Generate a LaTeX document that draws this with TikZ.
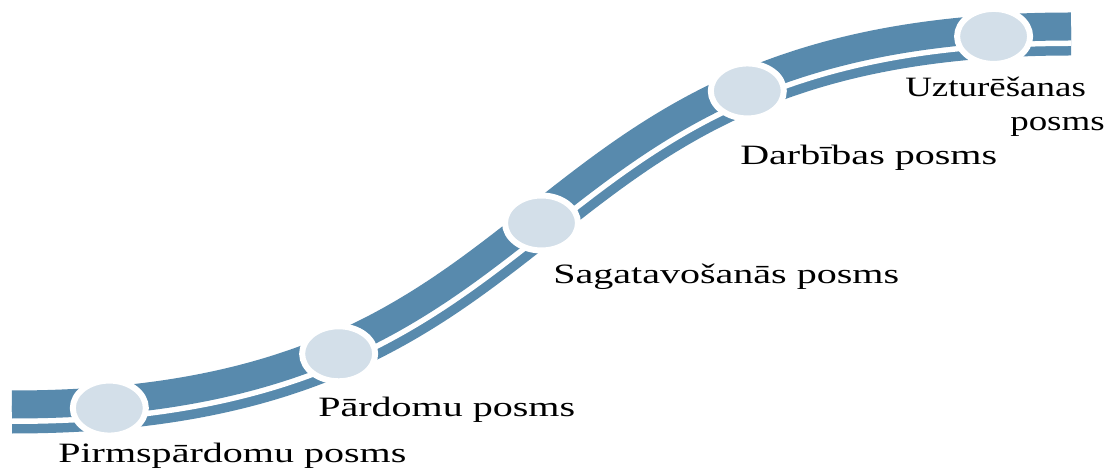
\documentclass[tikz,border=0pt]{standalone}
\usepackage{fontspec}
\setmainfont{Liberation Serif}
\usetikzlibrary{shapes.geometric}
\definecolor{bandblue}{RGB}{88,138,173}
\definecolor{dotfill}{RGB}{211,223,233}
\begin{document}
\begin{tikzpicture}[x=1pt,y=-1pt,
  stage/.style={ellipse, minimum width=73pt, minimum height=55pt, inner sep=0pt,
                fill=dotfill, draw=white, line width=6pt},
  stagelabel/.style={font=\fontsize{28}{34}\selectfont, xscale=1.43,
                     anchor=base west, inner sep=0pt, text=black}]
\useasboundingbox (0,0) rectangle (1109,470);
\fill[white] (0,0) rectangle (1109,470);
% the S-shaped road
\coordinate (s) at (12,412);
\coordinate (e) at (1071,34);
\coordinate (k1) at (592,412);
\coordinate (k2) at (491,34);
\draw[bandblue, line width=43pt] (s) .. controls (k1) and (k2) .. (e);
% thin white stripe running along the lower side of the road
\begin{scope}
  \clip (s) .. controls (k1) and (k2) .. (e) -- (1200,34) -- (1200,600)
        -- (-100,600) -- (-100,412) -- cycle;
  \draw[white, line width=24pt] (s) .. controls (k1) and (k2) .. (e);
\end{scope}
\draw[bandblue, line width=13pt] (s) .. controls (k1) and (k2) .. (e);
% stage markers along the road
\path (s) .. controls (k1) and (k2) .. (e)
  node[stage, pos=0.06]  (c1) {}
  node[stage, pos=0.248] (c2) {}
  node[stage, pos=0.5]   (c3) {}
  node[stage, pos=0.755] (c4) {}
  node[stage, pos=0.953] (c5) {};
% stage names
\node[stagelabel] (l1)  at (58,462)   {Pirmspārdomu posms};
\node[stagelabel] (l2)  at (318,417)  {Pārdomu posms};
\node[stagelabel] (l3)  at (553,284)  {Sagatavošanās posms};
\node[stagelabel] (l4)  at (740,165)  {Darbības posms};
\node[stagelabel, xscale=1.32/1.43] (l5a) at (905,97)   {Uzturēšanas};
\node[stagelabel, xscale=1.32/1.43] (l5b) at (1010,131) {posms};
\end{tikzpicture}
\end{document}
